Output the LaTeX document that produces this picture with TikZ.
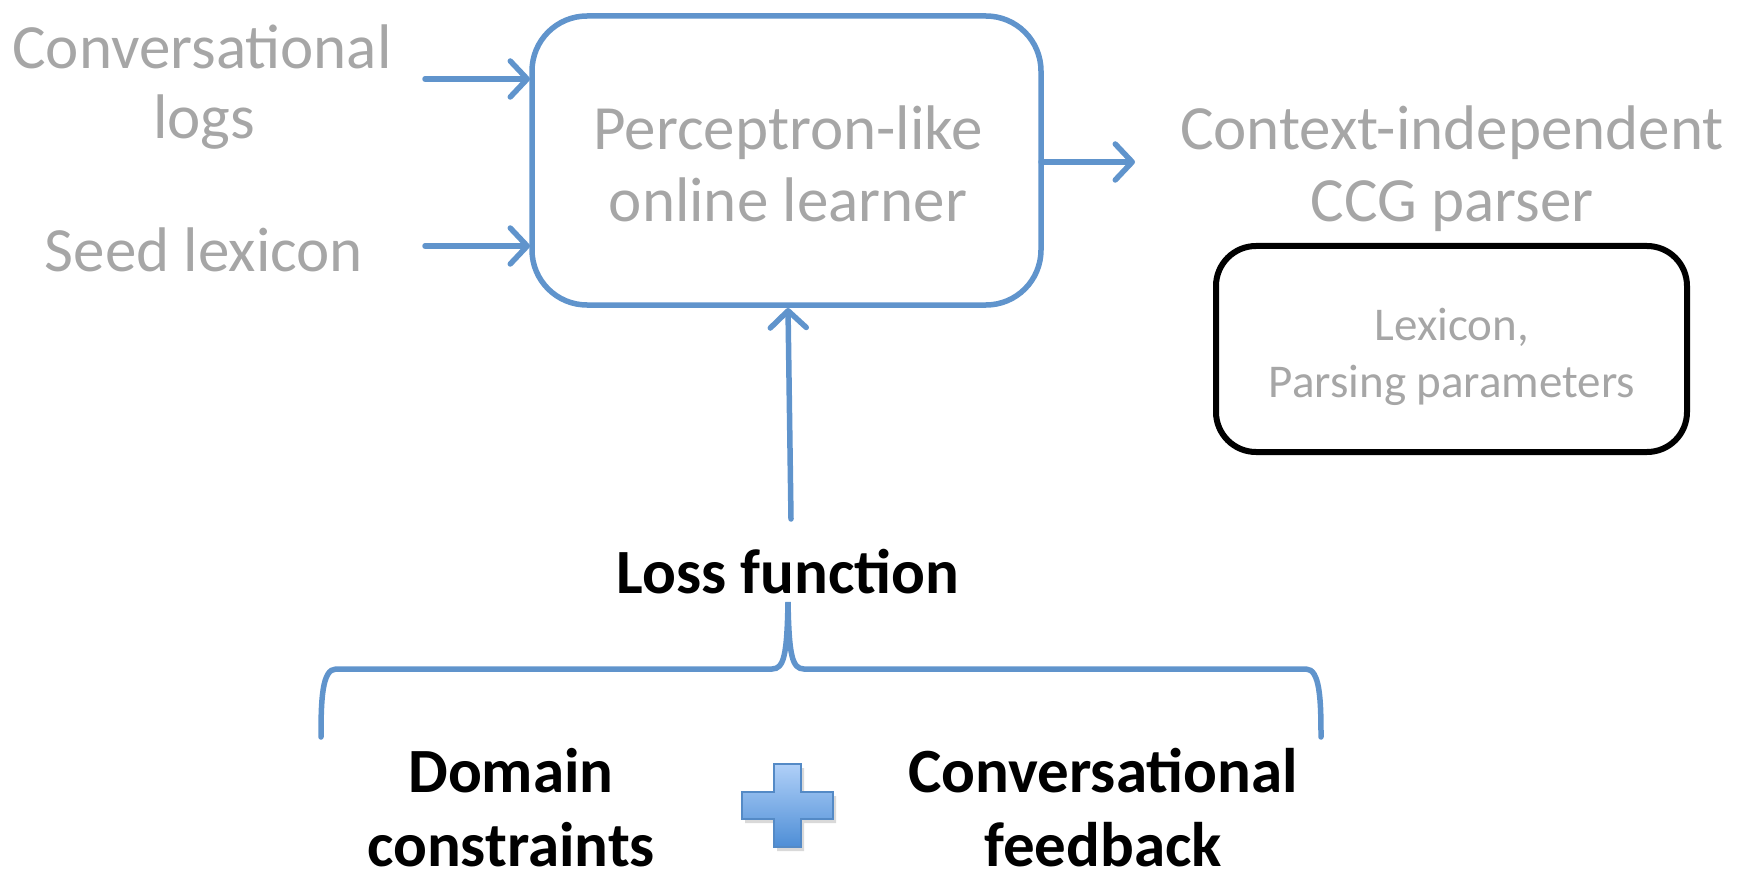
\documentclass[tikz,border=0pt]{standalone}
\usepackage{fontspec}
\setmainfont{Carlito}
\usetikzlibrary{arrows.meta}
\definecolor{lineblue}{RGB}{96,148,204}
\definecolor{textgray}{RGB}{166,166,166}
\definecolor{plusedge}{RGB}{84,138,198}
\definecolor{plustop}{RGB}{176,208,248}
\definecolor{plusbot}{RGB}{78,142,214}
\tikzset{
  graytext/.style={text=textgray, font=\fontsize{63}{72}\selectfont, anchor=base, inner sep=0pt},
  smalltext/.style={text=textgray, font=\fontsize{47}{57}\selectfont, anchor=base, inner sep=0pt},
  boldtext/.style={text=black, font=\bfseries\fontsize{63}{74}\selectfont, anchor=base, inner sep=0pt},
  flow/.style={draw=lineblue, line width=5.5pt, line cap=round,
    -{Straight Barb[length=17pt,width=36pt,round]}},
  learnerbox/.style={draw=lineblue, line width=5.5pt, rounded corners=55pt},
  parserbox/.style={draw=black, line width=6pt, rounded corners=40pt},
  bracepath/.style={draw=lineblue, line width=5.5pt, line cap=round}
}
\begin{document}
\begin{tikzpicture}[x=1pt,y=-1pt]
\useasboundingbox (0,0) rectangle (1738,869);

% learner box and its caption
\draw[learnerbox] (532,16) rectangle (1041,305);
\coordinate (learnerW1) at (530,79);
\coordinate (learnerW2) at (530,246);
\coordinate (learnerE) at (1041,162);
\coordinate (learnerS) at (788,308);
\node[graytext] (perc) at (788,150) {Perceptron-like};
\node[graytext] (onl) at (788,222) {online learner};

% inputs
\node[graytext] (conv) at (202,69) {Conversational};
\node[graytext] (logs) at (204,139) {logs};
\node[graytext] (seed) at (204,272) {Seed lexicon};
\coordinate (in1) at (425,79);
\coordinate (in2) at (425,246);
\draw[flow] (in1) -- (learnerW1);
\draw[flow] (in2) -- (learnerW2);

% output parser
\node[graytext] (ctx) at (1452,150) {Context-independent};
\node[graytext] (ccg) at (1452,222) {CCG parser};
\coordinate (out) at (1135,162);
\draw[flow] (learnerE) -- (out);
\draw[parserbox] (1216,246) rectangle (1687,452);
\node[smalltext] (lex) at (1452,340) {Lexicon,};
\node[smalltext] (par) at (1452,397) {Parsing parameters};

% loss function feeding the learner
\node[boldtext] (loss) at (788,593) {Loss function};
\coordinate (lossTop) at (791,519);
\draw[flow] (lossTop) -- (learnerS);

% brace
\coordinate (braceL) at (321,737);
\coordinate (braceTip) at (788,602);
\coordinate (braceR) at (1321,737);
\draw[bracepath] (braceL) .. controls (321,700) and (322,669) .. (336,669)
  -- (772,669) .. controls (784,669) and (787,655) .. (braceTip)
  .. controls (789,655) and (792,669) .. (804,669)
  -- (1306,669) .. controls (1320,669) and (1321,700) .. (braceR);

% two parts of the loss
\node[boldtext] (dom) at (511,792) {Domain};
\node[boldtext] (cons) at (511,866) {constraints};
\node[boldtext] (cf) at (1103,792) {Conversational};
\node[boldtext] (fb) at (1103,866) {feedback};

% plus sign
\fill[black, opacity=0.15] (777,768) -- (804,768) -- (804,796) -- (836,796) -- (836,823)
  -- (804,823) -- (804,851) -- (777,851) -- (777,823) -- (745,823) -- (745,796) -- (777,796) -- cycle;
\path[draw=plusedge, line width=1.6pt, top color=plustop, bottom color=plusbot]
  (774,764) -- (801,764) -- (801,792) -- (833,792) -- (833,819) -- (801,819)
  -- (801,847) -- (774,847) -- (774,819) -- (742,819) -- (742,792) -- (774,792) -- cycle;
\end{tikzpicture}
\end{document}
